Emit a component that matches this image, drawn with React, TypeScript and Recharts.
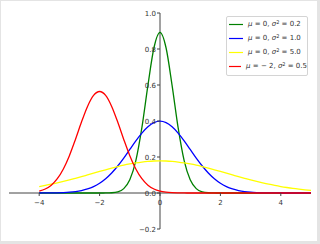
import React from 'react';
import { LineChart, Line, XAxis, YAxis, ReferenceLine } from 'recharts';

const xs = [
  -4, -3.8, -3.6, -3.4, -3.2, -3, -2.8, -2.6, -2.4, -2.2, -2, -1.8, -1.6, -1.4, -1.2, -1, -0.8, -0.6, -0.4, -0.2,
  0, 0.2, 0.4, 0.6, 0.8, 1, 1.2, 1.4, 1.6, 1.8, 2, 2.2, 2.4, 2.6, 2.8, 3, 3.2, 3.4, 3.6, 3.8, 4, 4.2, 4.4, 4.6, 4.8, 5,
];

const greenVals = [
  0, 0, 0, 0, 0, 0, 0, 0, 0, 0, 0, 0.0003, 0.0015, 0.0066, 0.0244, 0.0732, 0.18, 0.363, 0.598, 0.807,
  0.892, 0.807, 0.598, 0.363, 0.18, 0.0732, 0.0244, 0.0066, 0.0015, 0.0003, 0, 0, 0, 0, 0, 0, 0, 0, 0, 0, 0, 0, 0, 0, 0, 0,
];

const blueVals = [
  0.0001, 0.0003, 0.0006, 0.0012, 0.0024, 0.0044, 0.0079, 0.0136, 0.0224, 0.0355, 0.054, 0.079, 0.111, 0.15, 0.194, 0.242, 0.29, 0.333, 0.368, 0.391,
  0.399, 0.391, 0.368, 0.333, 0.29, 0.242, 0.194, 0.15, 0.111, 0.079, 0.054, 0.0355, 0.0224, 0.0136, 0.0079, 0.0044, 0.0024, 0.0012, 0.0006, 0.0003, 0.0001, 0.0001, 0, 0, 0, 0,
];

const yellowVals = [
  0.036, 0.0421, 0.0488, 0.0562, 0.0641, 0.0725, 0.0815, 0.0907, 0.1003, 0.1099, 0.1196, 0.129, 0.1381, 0.1466, 0.1545, 0.1614, 0.1673, 0.1721, 0.1756, 0.1777,
  0.1784, 0.1777, 0.1756, 0.1721, 0.1673, 0.1614, 0.1545, 0.1466, 0.1381, 0.129, 0.1196, 0.1099, 0.1003, 0.0907, 0.0815, 0.0725, 0.0641, 0.0562, 0.0488, 0.0421, 0.036, 0.0306, 0.0257, 0.0215, 0.0178, 0.0146,
];

const redVals = [
  0.0103, 0.0221, 0.0436, 0.0795, 0.1337, 0.2076, 0.2975, 0.394, 0.481, 0.542, 0.564, 0.542, 0.481, 0.394, 0.2975, 0.2076, 0.1337, 0.0795, 0.0436, 0.0221,
  0.0103, 0.0045, 0.0018, 0.0007, 0.0002, 0.0001, 0, 0, 0, 0, 0, 0, 0, 0, 0, 0, 0, 0, 0, 0, 0, 0, 0, 0, 0, 0,
];

const xTicks = [-4, -2, 0, 2, 4];
const yTicks = [-0.2, 0, 0.2, 0.4, 0.6, 0.8, 1.0];

const series = [
  { key: 'g', values: greenVals, color: '#008000', mu: '0', s2: '0.2' },
  { key: 'b', values: blueVals, color: '#0000ff', mu: '0', s2: '1.0' },
  { key: 'y', values: yellowVals, color: '#ffff00', mu: '0', s2: '5.0' },
  { key: 'r', values: redVals, color: '#ff0000', mu: '\u2212 2', s2: '0.5' },
];

const data = xs.map((x, i) => {
  const row: Record<string, number> = { x };
  series.forEach((s) => (row[s.key] = s.values[i]));
  return row;
});

const FONT = '"DejaVu Sans", sans-serif';
const AXIS = '#444';
const minus = (s: string) => s.replace('-', '\u2212');

// the axes cross at (0, 0), so ticks get moved from the frame edges onto the zero lines
const X_SHIFT = 36; // (0 - -0.2) / 1.2 * plot height 216
const Y_SHIFT = 151; // half of plot width 302

const XTick = (props: any) => {
  const { x, y, payload } = props;
  return (
    <g transform={`translate(${x},${y - X_SHIFT})`}>
      <line x1={0} x2={0} y1={0} y2={3} stroke={AXIS} strokeWidth={1} />
      <text x={0} y={11.5} textAnchor="middle" fontSize={7} fontFamily={FONT} fill="#333">
        {minus(String(payload.value))}
      </text>
    </g>
  );
};

const YTick = (props: any) => {
  const { x, y, payload } = props;
  return (
    <g transform={`translate(${x + Y_SHIFT},${y})`}>
      <line x1={-3} x2={0} y1={0} y2={0} stroke={AXIS} strokeWidth={1} />
      <text x={-4} y={2.5} textAnchor="end" fontSize={7} fontFamily={FONT} fill="#333">
        {minus(Number(payload.value).toFixed(1))}
      </text>
    </g>
  );
};

const LegendBox = () => (
  <div
    style={{
      position: 'absolute',
      left: 226,
      top: 16,
      width: 82,
      height: 60,
      boxSizing: 'border-box',
      border: '1px solid #d4d4d4',
      borderRadius: 2,
      background: 'rgba(255,255,255,0.8)',
      fontFamily: FONT,
      fontSize: 7,
      color: '#333',
      paddingBottom: 2,
    }}
  >
    {series.map((s) => (
      <div key={s.key} style={{ height: 14, display: 'flex', alignItems: 'center', whiteSpace: 'nowrap' }}>
        <svg width={14} height={3} style={{ marginLeft: 2, marginRight: 5 }}>
          <line x1={0} x2={14} y1={1.5} y2={1.5} stroke={s.color} strokeWidth={1.2} />
        </svg>
        <span>
          <i>μ</i> = {s.mu}, <i>σ</i>
          <sup style={{ fontSize: 5, verticalAlign: 'top', lineHeight: '5px' }}>2</sup> = {s.s2}
        </span>
      </div>
    ))}
  </div>
);

export default function App() {
  return (
    <div style={{ position: 'fixed', left: 0, top: 0, width: 320, height: 244, background: '#e4e4e4' }}>
      <div style={{ position: 'absolute', left: 1, top: 1, width: 316, height: 240, background: '#fff' }} />
      <div style={{ position: 'absolute', left: 0, top: 0 }}>
        <LineChart width={320} height={244} data={data} margin={{ top: 13, right: 9, bottom: 0, left: 0 }}>
          <XAxis
            type="number"
            dataKey="x"
            domain={[-5, 5]}
            ticks={xTicks}
            interval={0}
            axisLine={false}
            tickLine={false}
            tickSize={0}
            tickMargin={0}
            height={15}
            tick={(p: any) => <XTick {...p} />}
          />
          <YAxis
            type="number"
            domain={[-0.2, 1.0]}
            ticks={yTicks}
            interval={0}
            axisLine={false}
            tickLine={false}
            tickSize={0}
            tickMargin={0}
            width={9}
            tick={(p: any) => <YTick {...p} />}
          />
          <ReferenceLine x={0} stroke={AXIS} strokeWidth={1} />
          <ReferenceLine y={0} stroke={AXIS} strokeWidth={1} />
          {series.map((s) => (
            <Line
              key={s.key}
              type="monotone"
              dataKey={s.key}
              stroke={s.color}
              strokeWidth={1.3}
              dot={false}
              isAnimationActive={false}
            />
          ))}
        </LineChart>
      </div>
      <LegendBox />
    </div>
  );
}
